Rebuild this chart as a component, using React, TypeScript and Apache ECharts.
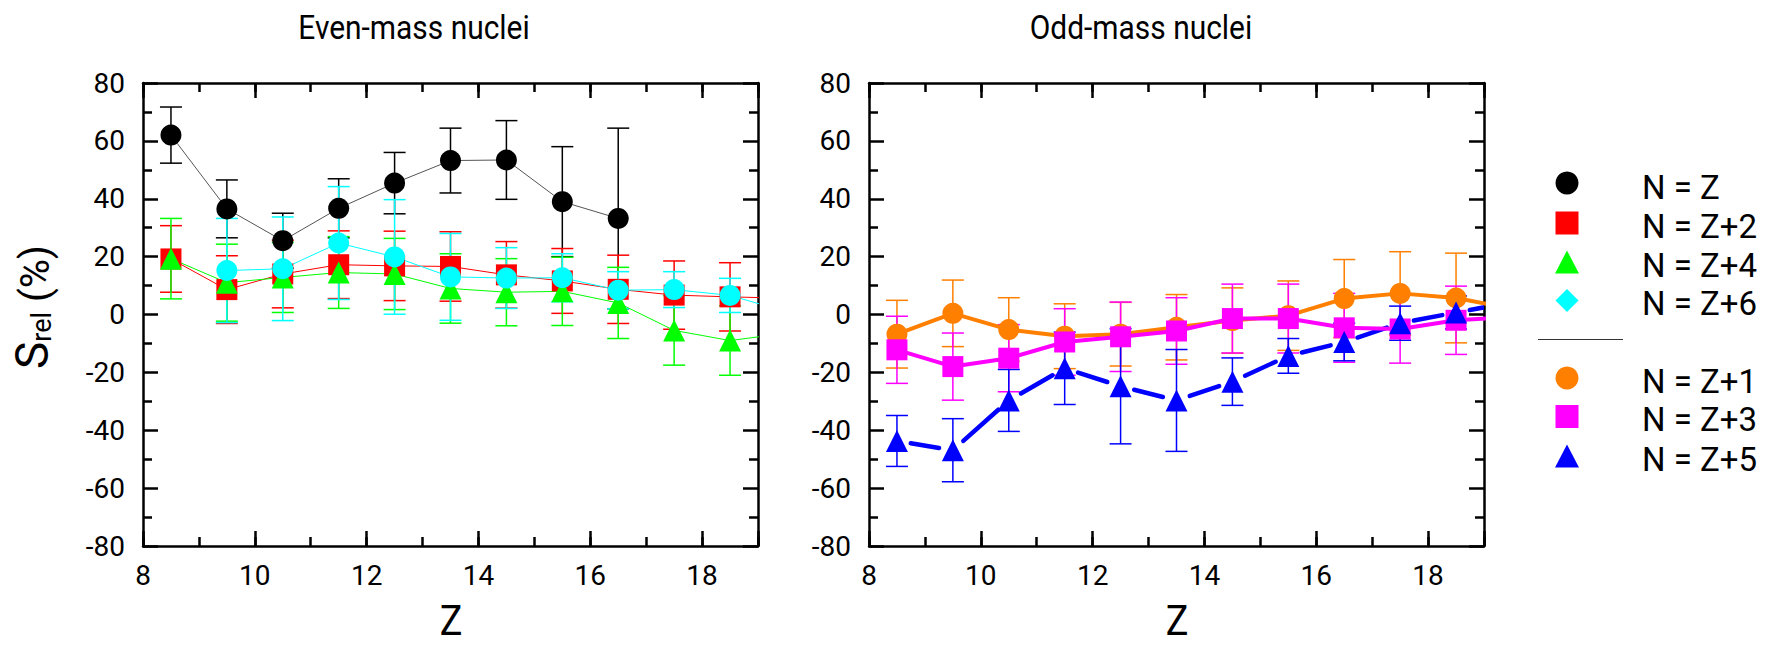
import { useEffect, useRef } from 'react';
import * as echarts from 'echarts';

// ---- data ----
const Z = [8.5, 9.5, 10.5, 11.5, 12.5, 13.5, 14.5, 15.5, 16.5, 17.5, 18.5, 19.5];
const xTickLabels = [8, 10, 12, 14, 16, 18];

// Even-mass nuclei
const evenNZ = [62, 36.5, 25.5, 36.7, 45.4, 53.2, 53.4, 39, 33.2, null, null, null];
const evenNZErr = [9.7, 10, 9.5, 10.2, 10.6, 11.2, 13.6, 19, 31.2, null, null, null];
const evenNZ2 = [19.2, 8.6, 14, 17.2, 16.8, 16.6, 13.7, 11.6, 8.7, 6.7, 6.1, 5.6];
const evenNZ2Err = [11.5, 11.7, 11.7, 11.7, 12, 12, 11.5, 11.2, 11.8, 11.8, 11.8, null];
const evenNZ4 = [19.3, 11, 12.8, 14.5, 14, 9, 7.7, 8, 4, -5.5, -9, -6.5];
const evenNZ4Err = [13.9, 13.3, 12.1, 12.4, 12.3, 12, 11.6, 11.8, 12.3, 12, 12, null];
const evenNZ6 = [null, 15.2, 15.8, 24.7, 19.9, 13, 12.6, 12.7, 8.4, 8.6, 6.6, 1];
const evenNZ6Err = [null, 18, 17.9, 19.5, 19.8, 15, 10.5, 8.3, 6.4, 6.2, 5.9, null];

// Odd-mass nuclei
const oddNZ1 = [-6.8, 0.4, -5.2, -7.5, -6.8, -4.4, -2.1, -0.4, 5.5, 7.3, 5.7, 2];
const oddNZ1Err = [11.7, 11.5, 11, 11.2, 11, 11.3, 11.3, 12, 13.5, 14.4, 15.5, null];
const oddNZ3 = [-12.2, -18, -15.1, -9.5, -7.7, -5.7, -1.4, -1.4, -4.6, -5, -2, -0.8];
const oddNZ3Err = [11.6, 11.6, 11.6, 11.5, 12, 11.5, 11.9, 11.9, 11.9, 11.8, 11.8, null];
const oddNZ5 = [-43.7, -46.9, -29.7, -18.6, -24.8, -29.7, -23.2, -14.3, -9.5, -3, 0.7, 4.2];
const oddNZ5Err = [8.8, 10.9, 10.7, 12.5, 19.9, 17.6, 8.2, 6, 6.5, 5.9, 5.7, null];

const FONT = 'Roboto, "DejaVu Sans", sans-serif';

type Num = number | null;

function pairs(vals: Num[]) {
  const out: number[][] = [];
  Z.forEach((z, i) => {
    if (vals[i] != null) out.push([z, vals[i] as number]);
  });
  return out;
}

function errSeries(vals: Num[], errs: Num[], color: string, xi: number, yi: number) {
  const data: number[][] = [];
  Z.forEach((z, i) => {
    const v = vals[i];
    const e = errs[i];
    if (v != null && e != null) data.push([z, v - e, v + e]);
  });
  return {
    type: 'custom',
    xAxisIndex: xi,
    yAxisIndex: yi,
    clip: true,
    silent: true,
    encode: { x: 0, y: [1, 2] },
    data,
    z: 2,
    renderItem: (_p: any, api: any) => {
      const x = api.value(0);
      const lo = api.coord([x, api.value(1)]);
      const hi = api.coord([x, api.value(2)]);
      const w = 11;
      const style = { stroke: color, lineWidth: 1.5, fill: null };
      return {
        type: 'group',
        children: [
          { type: 'line', shape: { x1: lo[0], y1: lo[1], x2: hi[0], y2: hi[1] }, style },
          { type: 'line', shape: { x1: lo[0] - w, y1: lo[1], x2: lo[0] + w, y2: lo[1] }, style },
          { type: 'line', shape: { x1: hi[0] - w, y1: hi[1], x2: hi[0] + w, y2: hi[1] }, style },
        ],
      };
    },
  };
}

function lineSeries(
  name: string, vals: Num[], color: string, symbol: string, size: number,
  width: number, xi: number, yi: number, lineColor?: string,
) {
  return {
    type: 'line',
    name,
    xAxisIndex: xi,
    yAxisIndex: yi,
    data: pairs(vals),
    symbol,
    symbolSize: size,
    showSymbol: true,
    showAllSymbol: true,
    clip: true,
    silent: true,
    z: 2,
    lineStyle: { color: lineColor || color, width },
    itemStyle: { color, borderWidth: 0 },
  };
}

// line segments that stop short of the markers (blue series)
function gapLineSeries(vals: Num[], color: string, width: number, gap: number, xi: number, yi: number) {
  const p = pairs(vals);
  const data: number[][] = [];
  for (let i = 0; i < p.length - 1; i++) data.push([p[i][0], p[i][1], p[i + 1][0], p[i + 1][1]]);
  return {
    type: 'custom',
    xAxisIndex: xi,
    yAxisIndex: yi,
    clip: true,
    silent: true,
    encode: { x: [0, 2], y: [1, 3] },
    data,
    z: 2,
    renderItem: (_p: any, api: any) => {
      const a = api.coord([api.value(0), api.value(1)]);
      const b = api.coord([api.value(2), api.value(3)]);
      const dx = b[0] - a[0];
      const dy = b[1] - a[1];
      const len = Math.sqrt(dx * dx + dy * dy);
      const ux = dx / len;
      const uy = dy / len;
      return {
        type: 'line',
        shape: { x1: a[0] + ux * gap, y1: a[1] + uy * gap, x2: b[0] - ux * gap, y2: b[1] - uy * gap },
        style: { stroke: color, lineWidth: width, lineCap: 'round' },
      };
    },
  };
}

const axisLine = { color: '#000', width: 2.5 };

function xAxes(gridIndex: number) {
  const base = { type: 'value', gridIndex, min: 8, max: 19, splitLine: { show: false } };
  const mk = (position: string, interval: number, len: number, labels: boolean, line: boolean) => ({
    ...base,
    position,
    interval,
    axisLine: { show: line, onZero: false, lineStyle: axisLine },
    axisTick: { show: true, inside: true, length: len, lineStyle: axisLine },
    axisLabel: labels
      ? {
          show: true,
          margin: 15,
          fontSize: 28,
          fontFamily: FONT,
          color: '#000',
          formatter: (v: number) => (xTickLabels.includes(v) ? String(v) : ''),
        }
      : { show: false },
  });
  return [
    mk('bottom', 1, 9, true, true),
    mk('bottom', 2, 15, false, false),
    mk('top', 1, 9, false, true),
    mk('top', 2, 15, false, false),
  ];
}

function yAxes(gridIndex: number) {
  const mk = (position: string, labels: boolean) => ({
    type: 'value',
    gridIndex,
    position,
    min: -80,
    max: 80,
    interval: 20,
    splitLine: { show: false },
    axisLine: { show: true, onZero: false, lineStyle: axisLine },
    axisTick: { show: true, inside: true, length: 15, lineStyle: axisLine },
    minorTick: { show: true, splitNumber: 2, length: 9, lineStyle: axisLine },
    axisLabel: labels
      ? { show: true, margin: 18, fontSize: 28, fontFamily: FONT, color: '#000' }
      : { show: false },
  });
  return [mk('left', true), mk('right', false)];
}

function legendGraphics() {
  const mx = 1567;
  const tx = 1642;
  const r = 11.5;
  const tri = (cy: number, color: string) => ({
    type: 'polygon',
    shape: { points: [[mx, cy - 11.5], [mx + 12, cy + 11.5], [mx - 12, cy + 11.5]] },
    style: { fill: color },
  });
  const label = (text: string, y: number) => ({
    type: 'text',
    x: tx,
    y,
    style: { text, fontSize: 33, fontFamily: FONT, fill: '#000', align: 'left', verticalAlign: 'middle' },
  });
  return [
    { type: 'circle', shape: { cx: mx, cy: 183, r }, style: { fill: '#000' } },
    { type: 'rect', shape: { x: mx - 11.5, y: 211.5, width: 23, height: 23 }, style: { fill: '#ff0000' } },
    tri(262, '#00ff00'),
    {
      type: 'polygon',
      shape: { points: [[mx, 289], [mx + 11.5, 300.5], [mx, 312], [mx - 11.5, 300.5]] },
      style: { fill: '#00ffff' },
    },
    { type: 'line', shape: { x1: 1538, y1: 339.5, x2: 1623, y2: 339.5 }, style: { stroke: '#333', lineWidth: 1 } },
    { type: 'circle', shape: { cx: mx, cy: 378, r }, style: { fill: '#ff7f00' } },
    { type: 'rect', shape: { x: mx - 11.5, y: 405, width: 23, height: 23 }, style: { fill: '#ff00ff' } },
    tri(456, '#0000ff'),
    label('N = Z', 187),
    label('N = Z+2', 226.5),
    label('N = Z+4', 265.5),
    label('N = Z+6', 303),
    label('N = Z+1', 381),
    label('N = Z+3', 419),
    label('N = Z+5', 459),
  ];
}

function textGraphics() {
  const t = (text: string, x: number, y: number, size: number, sx: number, lh: number) => ({
    type: 'text',
    x,
    y,
    scaleX: sx,
    style: {
      text, fontSize: size, lineHeight: lh, fontFamily: FONT, fill: '#000',
      align: 'center', verticalAlign: 'middle',
    },
  });
  return [
    t('Even-mass nuclei', 414, 27, 34, 0.88, 38),
    t('Odd-mass nuclei', 1141, 27, 34, 0.88, 38),
    t('Z', 451, 621, 42, 0.9, 34),
    t('Z', 1177, 621, 42, 0.9, 34),
    {
      type: 'text',
      x: 30,
      y: 307,
      rotation: Math.PI / 2,
      style: {
        text: '{s|S}{sub|rel}{p| (%)}',
        align: 'center',
        verticalAlign: 'middle',
        fill: '#000',
        fontFamily: FONT,
        rich: {
          s: { fontSize: 46, fontFamily: FONT, lineHeight: 50, verticalAlign: 'bottom' },
          sub: { fontSize: 27, fontFamily: FONT, lineHeight: 22, verticalAlign: 'bottom' },
          p: { fontSize: 40, fontFamily: FONT, lineHeight: 50, verticalAlign: 'bottom' },
        },
      },
    },
  ];
}

export default function App() {
  const ref = useRef<HTMLDivElement>(null);
  useEffect(() => {
    if (!ref.current) return;
    const chart = echarts.init(ref.current, null, { renderer: 'svg' });
    const option: any = {
      animation: false,
      backgroundColor: '#fff',
      grid: [
        { left: 143, top: 83, width: 615, height: 463, outerBoundsMode: 'none', containLabel: false },
        { left: 869, top: 83, width: 615, height: 463, outerBoundsMode: 'none', containLabel: false },
      ],
      xAxis: [...xAxes(0), ...xAxes(1)],
      yAxis: [...yAxes(0), ...yAxes(1)],
      series: [
        // even-mass
        errSeries(evenNZ, evenNZErr, '#000', 0, 0),
        lineSeries('N = Z', evenNZ, '#000', 'circle', 21, 1, 0, 0, '#555'),
        errSeries(evenNZ2, evenNZ2Err, '#ff0000', 0, 0),
        lineSeries('N = Z+2', evenNZ2, '#ff0000', 'rect', 21, 1, 0, 0),
        errSeries(evenNZ4, evenNZ4Err, '#00ff00', 0, 0),
        lineSeries('N = Z+4', evenNZ4, '#00ff00', 'triangle', 22, 1, 0, 0),
        errSeries(evenNZ6, evenNZ6Err, '#00ffff', 0, 0),
        lineSeries('N = Z+6', evenNZ6, '#00ffff', 'circle', 21, 1, 0, 0),
        // odd-mass
        errSeries(oddNZ1, oddNZ1Err, '#ff7f00', 4, 2),
        lineSeries('N = Z+1', oddNZ1, '#ff7f00', 'circle', 21, 4, 4, 2),
        errSeries(oddNZ3, oddNZ3Err, '#ff00ff', 4, 2),
        lineSeries('N = Z+3', oddNZ3, '#ff00ff', 'rect', 21, 4, 4, 2),
        errSeries(oddNZ5, oddNZ5Err, '#0000ff', 4, 2),
        gapLineSeries(oddNZ5, '#0000ff', 4.5, 14, 4, 2),
        {
          type: 'scatter',
          name: 'N = Z+5',
          xAxisIndex: 4,
          yAxisIndex: 2,
          data: pairs(oddNZ5),
          symbol: 'triangle',
          symbolSize: 22,
          clip: true,
          silent: true,
          z: 2,
          itemStyle: { color: '#0000ff', opacity: 1 },
        },
      ],
      graphic: [...legendGraphics(), ...textGraphics()],
    };
    chart.setOption(option);
    return () => chart.dispose();
  }, []);
  return (
    <div
      ref={ref}
      style={{ position: 'absolute', left: 0, top: 0, width: 1773, height: 649, background: '#fff' }}
    />
  );
}
